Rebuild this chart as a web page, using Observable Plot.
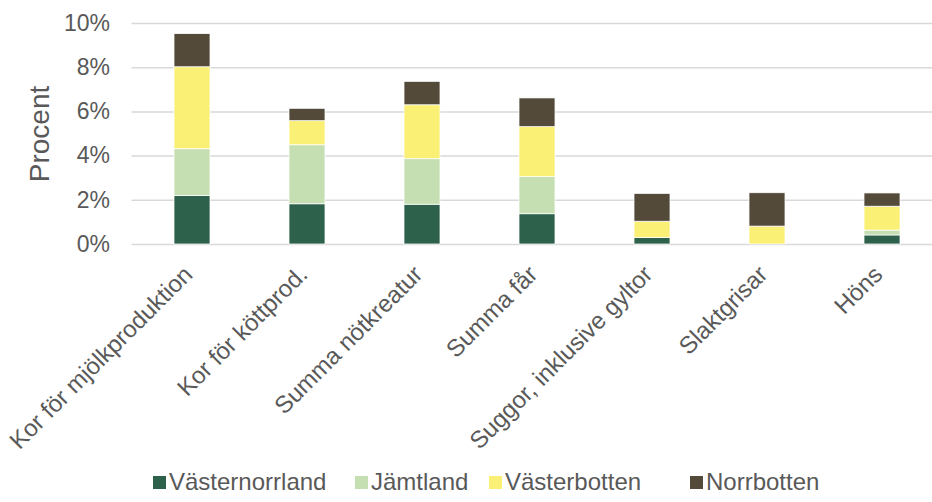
<!DOCTYPE html>
<html>
<head>
<meta charset="utf-8">
<script src="https://cdn.jsdelivr.net/npm/d3@7"></script>
<script src="https://cdn.jsdelivr.net/npm/@observablehq/plot@0.6"></script>
<style>
  html, body { margin: 0; padding: 0; background: #fff; overflow: hidden; }
  #chart { width: 932px; position: relative; }
  .legend { display: flex; align-items: center; height: 40px; padding-left: 153px;
    font-family: "Liberation Sans", Arial, sans-serif; font-size: 24px; color: #595959; }
  .legend .item { display: flex; align-items: center; }
  .legend .item:nth-child(1) { width: 202px; }
  .legend .item:nth-child(2) { width: 134px; }
  .legend .item:nth-child(3) { width: 201px; }
  .legend .sw { width: 13px; height: 13px; margin-right: 3px; }
</style>
</head>
<body>
<div id="chart"></div>
<script>
const categories = [
  "Kor för mjölkproduktion",
  "Kor för köttprod.",
  "Summa nötkreatur",
  "Summa får",
  "Suggor, inklusive gyltor",
  "Slaktgrisar",
  "Höns"
];
const regions = ["Västernorrland", "Jämtland", "Västerbotten", "Norrbotten"];
const colors = ["#2E614B", "#C5DFB3", "#FAF075", "#534A3A"];
// Percent values per region, in category order
const vasternorrland = [2.19, 1.82, 1.80, 1.37, 0.29, 0.00, 0.41];
const jamtland       = [2.12, 2.67, 2.06, 1.68, 0.00, 0.00, 0.22];
const vasterbotten   = [3.71, 1.09, 2.44, 2.26, 0.74, 0.81, 1.08];
const norrbotten     = [1.50, 0.56, 1.06, 1.30, 1.26, 1.51, 0.60];
const yTicks = [0, 2, 4, 6, 8, 10];

const series = [vasternorrland, jamtland, vasterbotten, norrbotten];
const data = [];
regions.forEach((r, j) => {
  categories.forEach((c, i) => {
    data.push({category: c, region: r, value: series[j][i]});
  });
});

const font = "Liberation Sans, Arial, sans-serif";
const textColor = "#595959";

const chart = Plot.plot({
  width: 932,
  height: 462,
  marginTop: 23,
  marginBottom: 218,
  marginLeft: 131.5,
  marginRight: -10.5,
  style: {fontFamily: font, fontSize: "22px", color: textColor, background: "#fff", overflow: "visible"},
  x: {domain: categories, paddingInner: 0.683, paddingOuter: 0.3415, label: null},
  y: {domain: [0, 10], ticks: yTicks, label: null},
  color: {domain: regions, range: colors},
  marks: [
    Plot.ruleY(yTicks, {stroke: "#D9D9D9", strokeWidth: 1.5}),
    Plot.barY(data.filter(d => d.value > 0), {
      x: "category", y: "value", fill: "region",
      stroke: "#ffffff", strokeWidth: 0.75, order: null
    }),
    Plot.axisY({ticks: yTicks, tickSize: 0, tickPadding: 22, tickFormat: d => d + "%",
      fontSize: 23, fill: textColor, label: null}),
    Plot.axisX({tickSize: 0, tickRotate: -45, tickPadding: 26, dx: -4,
      fontSize: 24, fill: textColor, label: null}),
    Plot.text(["Procent"], {frameAnchor: "left", dx: -92, rotate: -90,
      fontSize: 28, fill: textColor, textAnchor: "middle"})
  ]
});

const container = d3.select("#chart");
container.node().appendChild(chart);

const legend = container.append("div").attr("class", "legend");
regions.forEach((r, j) => {
  const item = legend.append("div").attr("class", "item");
  item.append("div").attr("class", "sw").style("background", colors[j]);
  item.append("span").text(r);
});
</script>
</body>
</html>
